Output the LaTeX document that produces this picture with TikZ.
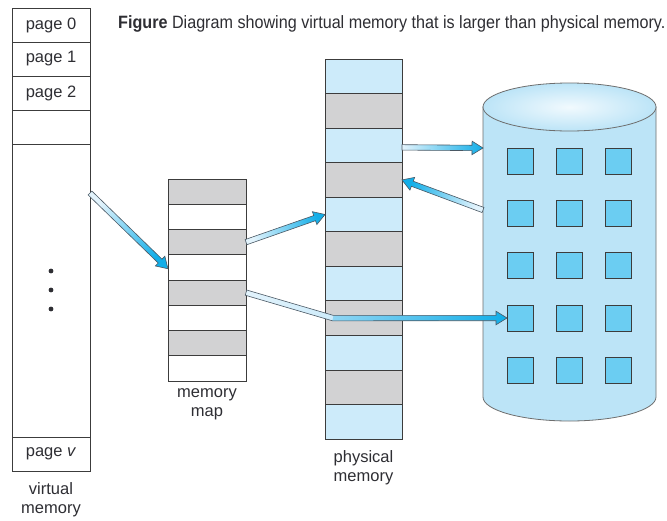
\documentclass[tikz,border=0pt]{standalone}
\usepackage{fontspec}
\setmainfont{Liberation Sans}
\usetikzlibrary{calc}

\definecolor{rowblue}{HTML}{CDEBFA}
\definecolor{rowgray}{HTML}{D2D2D3}
\definecolor{cellline}{HTML}{3C3C3C}
\definecolor{winblue}{HTML}{6BCDF2}
\definecolor{arrowblue}{HTML}{12AEE8}
\definecolor{arrowmid}{HTML}{8ED5F3}
\definecolor{arrowpale}{HTML}{E2F3FC}
\definecolor{arrowline}{HTML}{4A5864}
\definecolor{cylside}{HTML}{BCE4F7}
\definecolor{cylmid}{HTML}{E8F6FD}
\definecolor{cylline}{HTML}{6E6E6E}
\definecolor{textc}{HTML}{2E2E33}

\tikzset{
  x=1pt, y=-1pt,
  cell/.style={draw=cellline, line width=0.8pt, inner sep=0pt, outer sep=0pt},
  vcell/.style={cell, fill=white, minimum width=78pt, minimum height=34pt,
    font=\fontsize{16.5}{19}\selectfont, text=textc},
  mcell/.style={cell, minimum width=78pt, minimum height=25.25pt},
  pcell/.style={cell, minimum width=77pt, minimum height=34.55pt},
  caption/.style={align=center, font=\fontsize{16.5}{19}\selectfont, text=textc},
  window/.style={draw=cellline, line width=0.8pt, fill=winblue, minimum size=26pt,
    inner sep=0pt, outer sep=0pt},
  arrowedge/.style={draw=arrowline, line width=0.6pt, line join=miter},
  fatarrow/.style={arrowedge, bottom color=arrowpale, top color=arrowblue},
}

% broad shaded arrow between two named coordinates
\newcommand\fatarrow[2]{%
  \pgfpointdiff{\pgfpointanchor{#1}{center}}{\pgfpointanchor{#2}{center}}%
  \pgfgetlastxy{\fdx}{\fdy}%
  \pgfmathsetmacro\fang{atan2(\fdy,\fdx)-90}%
  \coordinate (#1-base) at ($(#2)!11pt!(#1)$);
  \path[fatarrow, shading angle=\fang]
    ($(#1)!2.7pt!90:(#2)$) -- ($(#1-base)!2.7pt!-90:(#1)$)
    -- ($(#1-base)!6.8pt!-90:(#1)$) -- (#2)
    -- ($(#1-base)!6.8pt!90:(#1)$) -- ($(#1-base)!2.7pt!90:(#1)$)
    -- ($(#1)!2.7pt!-90:(#2)$) -- cycle;
}

\begin{document}
\begin{tikzpicture}
\path[use as bounding box, fill=white] (0,0) rectangle (667,520);

% title
\node[anchor=base west, inner sep=0pt, text=textc] (title) at (118,28)
  {\scalebox{0.95}[1.05]{\fontsize{17}{19}\selectfont\textbf{Figure} Diagram showing virtual memory that is larger than physical memory.}};

% virtual memory
\node[vcell] (vm0) at (51,25) {page 0};
\node[vcell] (vm1) at (51,59) {page 1};
\node[vcell] (vm2) at (51,93) {page 2};
\node[vcell] (vm3) at (51,127) {};
\node[vcell, minimum height=293pt] (vmbig) at (51,290.5) {};
\node[vcell] (vmv) at (51,454) {page \textit{v}};
\foreach \yy in {271,290,309} \fill[textc] (51,\yy) circle[radius=2.4pt];
\node[caption] (vmlabel) at (51,500) {virtual\\memory};

% memory map
\foreach \i in {1,...,8}{
  \pgfmathtruncatemacro\odd{mod(\i,2)}
  \ifnum\odd=1 \def\cfill{rowgray}\else\def\cfill{white}\fi
  \node[mcell, fill=\cfill] (mm\i) at (207,{179+25.25*(\i-0.5)}) {};
}
\node[caption] (mmlabel) at (207,404.5) {memory\\map};

% physical memory
\foreach \i in {1,...,11}{
  \pgfmathtruncatemacro\odd{mod(\i,2)}
  \ifnum\odd=1 \def\cfill{rowblue}\else\def\cfill{rowgray}\fi
  \node[pcell, fill=\cfill] (pm\i) at (363.5,{59+34.55*(\i-0.5)}) {};
}
\node[caption] (pmlabel) at (363.5,467.5) {physical\\memory};

% disk drawn as a cylinder
\coordinate (cyltop) at (569.5,107);
\path[draw=cylline, line width=0.8pt, left color=cylside, middle color=cylmid, right color=cylside]
  (483,107) -- (483,397) arc[start angle=180, end angle=360, x radius=86.5pt, y radius=24pt]
  -- (656,107) -- cycle;
\path[draw=cylline, line width=0.8pt, inner color=cylmid!60!white, outer color=cylside]
  (cyltop) ellipse[x radius=86.5pt, y radius=24pt];

% disk blocks
\foreach \r/\yy in {1/161.5,2/213.5,3/265.5,4/318,5/370}
  \foreach \c/\xx in {1/520,2/569.5,3/618.5}
    \node[window] (sq\r\c) at (\xx,\yy) {};

% arrows
\coordinate (a1s) at ($(vmbig.north east)+(0,49)$);
\coordinate (a1e) at ($(mm4.north west)+(0,14)$);
\fatarrow{a1s}{a1e}

\coordinate (a2s) at (mm3.east);
\coordinate (a2e) at (pm5.west);
\fatarrow{a2s}{a2e}

\coordinate (a4s) at ($(pm3.east)+(0,2)$);
\coordinate (a4e) at ($(cyltop)+(-86.5,41)$);
\fatarrow{a4s}{a4e}

\coordinate (a5s) at ($(cyltop)+(-86.5,103)$);
\coordinate (a5e) at (pm4.east);
\fatarrow{a5s}{a5e}

% bent arrow from the memory map to a disk block
\coordinate (a3s) at (mm5.east);
\coordinate (a3k) at ($(pm8.west)+(8,0)$);
\coordinate (a3e) at (sq41.west);
\path[left color=arrowpale, right color=rowblue]
  ($(a3s)!2.7pt!90:(a3k)$) -- ($(a3k)+(0.5,-2.7)$)
  -- ($(a3k)+(-0.5,2.7)$) -- ($(a3s)!2.7pt!-90:(a3k)$) -- cycle;
\path[left color=arrowmid, right color=arrowblue]
  ($(a3k)+(0.5,-2.7)$) -- ($(a3e)+(-11,-2.7)$)
  -- ($(a3e)+(-11,-6.8)$) -- (a3e) -- ($(a3e)+(-11,6.8)$) -- ($(a3e)+(-11,2.7)$)
  -- ($(a3k)+(-0.5,2.7)$) -- cycle;
\path[arrowedge]
  ($(a3s)!2.7pt!90:(a3k)$) -- ($(a3k)+(0.5,-2.7)$) -- ($(a3e)+(-11,-2.7)$)
  -- ($(a3e)+(-11,-6.8)$) -- (a3e) -- ($(a3e)+(-11,6.8)$) -- ($(a3e)+(-11,2.7)$)
  -- ($(a3k)+(-0.5,2.7)$) -- ($(a3s)!2.7pt!-90:(a3k)$) -- cycle;
\end{tikzpicture}
\end{document}
